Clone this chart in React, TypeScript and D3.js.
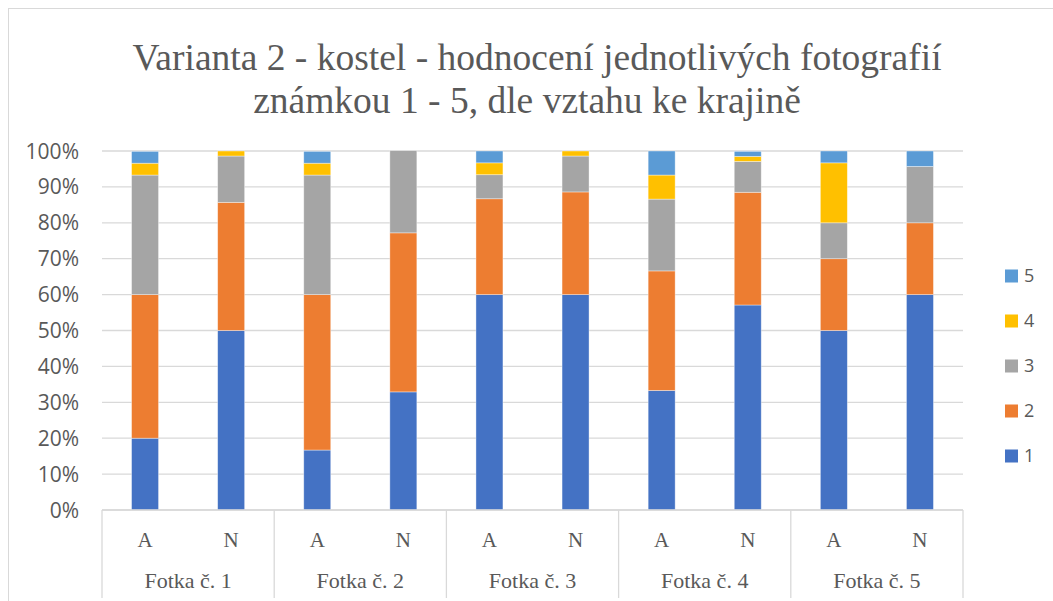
import React, { useEffect, useRef } from 'react';
import * as d3 from 'd3';

const photos = ['Fotka č. 1', 'Fotka č. 2', 'Fotka č. 3', 'Fotka č. 4', 'Fotka č. 5'];
const groups = ['A', 'N'];
const grades = ['1', '2', '3', '4', '5'];

// share of each grade per bar (A, N for each photo), in %
const grade1 = [20, 50, 16.7, 32.9, 60, 60, 33.3, 57.1, 50, 60];
const grade2 = [40, 35.7, 43.3, 44.3, 26.7, 28.6, 33.3, 31.4, 20, 20];
const grade3 = [33.3, 12.9, 33.3, 22.9, 6.7, 10, 20, 8.6, 10, 15.7];
const grade4 = [3.3, 1.4, 3.3, 0, 3.3, 1.4, 6.7, 1.4, 16.7, 0];
const grade5 = [3.3, 0, 3.3, 0, 3.3, 0, 6.7, 1.4, 3.3, 4.3];

const colors = ['#4472C4', '#ED7D31', '#A5A5A5', '#FFC000', '#5B9BD5'];
const yTicks = [0, 10, 20, 30, 40, 50, 60, 70, 80, 90, 100];

const App: React.FC = () => {
  const svgRef = useRef<SVGSVGElement>(null);

  useEffect(() => {
    if (!svgRef.current) return;
    const svg = d3.select(svgRef.current);
    svg.selectAll('*').remove();

    const left = 102, right = 963, top = 151, bottom = 510;
    const serif = '"Liberation Serif", "Times New Roman", serif';
    const sans = '"Open Sans", "Noto Sans", sans-serif';
    const textCol = '#595959';
    const gridCol = '#d9d9d9';

    // chart border
    svg.append('rect')
      .attr('x', 8.5).attr('y', 8.5)
      .attr('width', 1100).attr('height', 700)
      .attr('fill', 'white').attr('stroke', gridCol);

    // title
    const title = svg.append('text')
      .attr('text-anchor', 'middle')
      .attr('fill', textCol)
      .attr('font-size', '37.5px')
      .style('font-family', serif);
    title.append('tspan').attr('x', 537).attr('y', 70)
      .text('Varianta 2 - kostel - hodnocení jednotlivých fotografií');
    title.append('tspan').attr('x', 527).attr('y', 113)
      .text('známkou 1 - 5, dle vztahu ke krajině');

    const bars = photos.flatMap(p => groups.map(g => `${p}|${g}`));
    const x = d3.scaleBand().domain(bars).range([left, right]);
    const y = d3.scaleLinear().domain([0, 100]).range([bottom, top]);

    // gridlines + y labels
    svg.append('g').selectAll('line').data(yTicks).join('line')
      .attr('x1', left).attr('x2', right)
      .attr('y1', d => y(d)).attr('y2', d => y(d))
      .attr('stroke', gridCol).attr('stroke-width', 1.3);
    svg.append('g').selectAll('text').data(yTicks).join('text')
      .attr('x', 79).attr('y', d => y(d)).attr('dy', '0.36em')
      .attr('text-anchor', 'end').attr('fill', textCol)
      .attr('font-size', '21px').style('font-family', sans)
      .text(d => `${d}%`);

    // stacked bars
    const rows = bars.map((key, i) => ({
      key,
      '1': grade1[i], '2': grade2[i], '3': grade3[i], '4': grade4[i], '5': grade5[i],
    }));
    const stack = d3.stack<any>().keys(grades)(rows);
    const barW = x.bandwidth() / 3.19;
    stack.forEach((layer, li) => {
      svg.append('g').selectAll('rect').data(layer).join('rect')
        .attr('x', d => x(d.data.key)! + (x.bandwidth() - barW) / 2)
        .attr('width', barW)
        .attr('y', d => y(d[1]))
        .attr('height', d => Math.max(0, y(d[0]) - y(d[1])))
        .attr('fill', colors[li])
        .attr('stroke', 'white').attr('stroke-opacity', 0.5).attr('stroke-width', 0.75);
    });

    // category axis
    svg.append('line')
      .attr('x1', left).attr('x2', right).attr('y1', bottom).attr('y2', bottom)
      .attr('stroke', gridCol).attr('stroke-width', 1.3);
    const pw = (right - left) / photos.length;
    d3.range(photos.length + 1).forEach(i => {
      svg.append('line')
        .attr('x1', left + i * pw).attr('x2', left + i * pw)
        .attr('y1', bottom).attr('y2', 598)
        .attr('stroke', gridCol).attr('stroke-width', 1.3);
    });
    svg.append('g').selectAll('text').data(bars).join('text')
      .attr('x', d => x(d)! + x.bandwidth() / 2).attr('y', 547)
      .attr('text-anchor', 'middle').attr('fill', textCol)
      .attr('font-size', '21px').style('font-family', serif)
      .text(d => d.split('|')[1]);
    svg.append('g').selectAll('text').data(photos).join('text')
      .attr('x', (d, i) => left + (i + 0.5) * pw).attr('y', 588)
      .attr('text-anchor', 'middle').attr('fill', textCol)
      .attr('font-size', '22px').style('font-family', serif)
      .text(d => d);

    // legend
    const lg = svg.append('g');
    grades.slice().reverse().forEach((g, i) => {
      const cy = 276 + i * 45;
      lg.append('rect')
        .attr('x', 1005).attr('y', cy - 6.5).attr('width', 13).attr('height', 13)
        .attr('fill', colors[grades.indexOf(g)]);
      lg.append('text')
        .attr('x', 1024).attr('y', cy).attr('dy', '0.36em')
        .attr('fill', textCol).attr('font-size', '18px').style('font-family', sans)
        .text(g);
    });
  }, []);

  return (
    <svg ref={svgRef} width={1053} height={601}
      style={{ position: 'absolute', left: 0, top: 0, background: 'white' }} />
  );
};

export default App;
